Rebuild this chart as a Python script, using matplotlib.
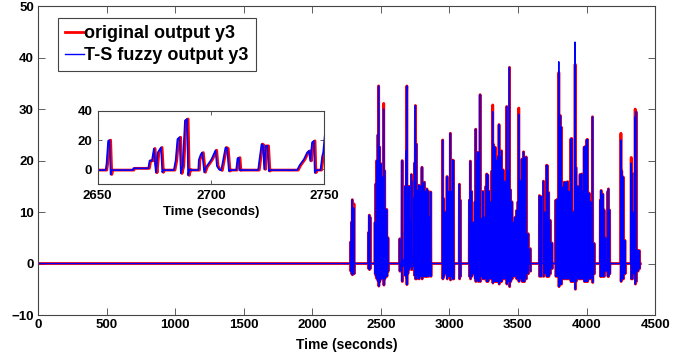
import matplotlib.pyplot as plt

plt.rcParams['font.family'] = ['Liberation Sans', 'DejaVu Sans']
plt.rcParams['font.weight'] = 'bold'
plt.rcParams['axes.labelweight'] = 'bold'

# spikes of the main trace: time (s), red peak, undershoot after the peak
spike_time = [
    2280, 2286, 2292, 2298, 2304,
    2410, 2416, 2422,
    2458, 2464, 2470, 2479, 2484, 2491, 2500, 2507, 2513, 2521, 2528, 2535,
    2543, 2552,
    2638,
    2760, 2768, 2778, 2788, 2800, 2808, 2818, 2828, 2836, 2848, 2857, 2864,
    2951, 2958, 2968, 2983, 2995, 3007, 3015, 3024, 3030, 3073, 3080,
    3146, 3153, 3162, 3175, 3187, 3192, 3202, 3210, 3224, 3234, 3244, 3256,
    3266, 3272, 3280, 3290, 3303, 3310, 3316, 3322, 3334, 3342, 3352, 3362,
    3370, 3380, 3392, 3404, 3418, 3426, 3438, 3446, 3456, 3468, 3480, 3490,
    3500, 3506, 3514, 3524, 3530, 3541, 3547, 3560, 3574, 3590,
    3657, 3669, 3686, 3696, 3709, 3715, 3724, 3735, 3748,
    3776, 3788, 3798, 3804, 3810, 3816, 3826, 3838, 3850, 3862, 3874, 3886,
    3892, 3904, 3917, 3923, 3935, 3944, 3953, 3965, 3976, 3983, 3990, 4001,
    4007, 4019, 4030, 4044, 4056,
    4101, 4107, 4119, 4128, 4140, 4155, 4160, 4168,
    4251, 4257, 4268, 4280,
    4326, 4334, 4346, 4355, 4362, 4374, 4386,
]
red_peak = [
    4.2, 8.0, 12.4, 6.0, 11.6,
    6.0, 9.4, 9.0,
    8, 15.5, 20, 25, 34.5, 22.6, 19.4, 14, 16.8, 31.1, 18, 10.5,
    10.5, 5,
    4.8,
    23.2, 14.2, 15.2, 15, 18.7, 15.6, 15.8, 14, 14.5, 14, 9, 13.9,
    24, 12.6, 10, 16.9, 14, 25.3, 14, 20.1, 20, 15.4, 12.3,
    12.3, 19.9, 14, 8, 12, 26.1, 20, 21.6, 32.8, 8.7, 14, 9,
    15, 17.4, 17.2, 14, 12, 18, 30.8, 23.1, 22.6, 20, 20.7, 27,
    20.7, 21.9, 18.2, 16, 30.5, 18, 38.1, 14.3, 12, 8, 9, 10.3,
    12, 30.2, 16.2, 12, 20.3, 21.7, 20.6, 20.7, 5.8, 2.9,
    13.2, 13, 16, 10, 19.1, 19, 13.8, 8.4, 4,
    12.3, 12.5, 37.1, 28, 28.7, 26.5, 14.8, 15.8, 15.8, 15.9, 14, 24.2,
    24.3, 10, 38.7, 18.7, 15, 14.8, 17.3, 17.4, 14, 22.6, 22.7, 24,
    24.1, 13.7, 12, 28.5, 3.9,
    12.3, 14.2, 13.5, 10.4, 5, 14, 14.5, 10.4,
    25.3, 18, 16.8, 4.5,
    20.6, 17.5, 10, 30, 29.5, 2.6, 2.5,
]
spike_dip = [
    -1.5, -2.0, -2.2, -1.8, -2.0,
    -1.0, -1.2, -1.0,
    -2, -2.5, -3, -3.5, -4.4, -3.5, -3, -2.5, -3, -4.2, -3, -2.5,
    -2.5, -1.5,
    -1.5,
    -3, -2.5, -3, -2.5, -3, -2.5, -2.5, -2.5, -2.5, -2.5, -2, -2.5,
    -3, -2.5, -2, -3, -2.5, -3.2, -2.5, -3, -3, -3, -2.5,
    -2.5, -3, -2.5, -2, -3, -3.5, -3, -3.5, -3.5, -2.5, -3, -3,
    -3, -3.5, -3.5, -3, -3, -3, -3.8, -3.5, -3.5, -3.5, -3.5, -4,
    -3.5, -3.5, -3, -3, -4, -3.5, -4.5, -3.5, -3, -2.5, -2.5, -3,
    -3, -3.5, -3, -3, -3.5, -3.5, -3.5, -3, -2, -1.5,
    -2.5, -2.5, -2.5, -2, -2.5, -2.5, -2.5, -2, -1,
    -2.5, -2.5, -4.5, -4, -4, -4, -3, -3, -3, -3, -3, -3.5,
    -3.5, -3.5, -5, -3.5, -3, -3, -3, -3, -3, -3.5, -3.5, -3.5,
    -3.5, -3, -3, -3.7, -2,
    -2.5, -2.5, -2.5, -2.5, -1.5, -2.5, -2.5, -2,
    -3.5, -3, -3, -2,
    -3, -3, -2, -4, -3.5, -1.5, -1,
]
# spikes where the fuzzy model peak differs from the original
blue_peak_change = {2304: 10.8, 2521: 30.0, 3316: 29.5, 3506: 29.0, 3798: 39.2,
                    3917: 43.0, 4251: 24.0, 4326: 19.5, 4355: 28.5}

# detailed trace in the zoomed window (2650-2755 s)
zoom_time = [
    2650.0, 2654.0, 2654.4, 2655.1, 2655.7, 2656.2, 2656.6, 2666.0, 2666.2,
    2672.8, 2673.4, 2674.4, 2675.3, 2675.8, 2676.2, 2677.0, 2678.4, 2679.0,
    2679.4, 2684.1, 2684.9, 2685.7, 2686.6, 2687.2, 2688.0, 2689.0, 2689.9,
    2690.4, 2691.0, 2691.5, 2694.9, 2695.1, 2696.0, 2696.6, 2697.5, 2698.4,
    2699.5, 2700.7, 2701.7, 2702.5, 2703.1, 2704.0, 2705.0, 2706.9, 2707.6,
    2708.4, 2708.8, 2711.6, 2712.2, 2712.8, 2713.2, 2713.6, 2721.3, 2721.9,
    2722.8, 2723.4, 2724.0, 2724.6, 2725.4, 2726.0, 2726.4, 2738.5, 2739.6,
    2741.5, 2742.9, 2743.7, 2744.3, 2745.1, 2745.9, 2746.3, 2747.0, 2748.8,
    2749.6, 2750.0, 2751.0, 2752.0, 2753.0, 2754.0,
]
zoom_value = [
    -0.5, -0.5, 4.0, 19.5, 20.0, -3.5, -0.5, -0.5, 0.7,
    0.7, 6.0, 5.8, 14.3, 3.5, -2.3, 11.5, 15.0, -2.0,
    -0.5, -0.5, 6.2, 20.7, 22.0, -2.8, 2.3, 33.4, 34.5,
    -4.1, 0.0, -0.5, -0.5, 6.4, 10.3, 11.5, -2.0, 1.8,
    4.1, 6.9, 10.3, 13.1, 2.3, 0.0, -0.7, 15.0, 14.3,
    -1.2, -0.5, -0.5, 7.6, 8.0, -0.7, -0.5, -0.5, 6.9,
    17.3, 16.6, 0.0, 16.1, 16.1, -1.2, -0.5, -0.5, 2.8,
    6.9, 11.5, 12.7, 5.8, 18.4, 19.5, -2.3, -0.5, -0.5,
    9.2, 11.5, 28.0, 30.7, -3.0, -0.5,
]
end_time = 4392
blue_lead = 0.5


def build_trace(use_blue, shift):
    pts = [(0.0, 0.0), (end_time, 0.0)]
    for t, p, d in zip(spike_time, red_peak, spike_dip):
        if use_blue:
            p = blue_peak_change.get(t, p)
        pts += [(t - 1.5, 0.0), (t - 0.5, p), (t + 0.5, p), (t + 1.5, d), (t + 2.5, 0.0)]
    pts += list(zip(zoom_time, zoom_value))
    pts.sort()
    return [a - shift for a, b in pts], [b for a, b in pts]


red_t, red_y = build_trace(False, 0.0)
blue_t, blue_y = build_trace(True, blue_lead)

axis_grey = '#444444'

fig = plt.figure(figsize=(6.98, 3.6), dpi=100)
ax = fig.add_axes([0.0545, 0.125, 0.884, 0.858])
ax.plot(red_t, red_y, color='#ff0000', lw=2.0, label='original output y3')
ax.plot(blue_t, blue_y, color='#0000ff', lw=1.0, label='T-S fuzzy output y3')
ax.set_xlim(0, 4500)
ax.set_ylim(-10, 50)
ax.set_xticks(range(0, 4501, 500))
ax.set_yticks(range(-10, 51, 10))
ax.tick_params(direction='in', top=True, right=True, labelsize=9.5, length=5,
               width=0.6, pad=3, color=axis_grey)
for s in ax.spines.values():
    s.set_linewidth(0.8)
    s.set_color(axis_grey)
ax.set_xlabel('Time (seconds)', fontsize=10, labelpad=5)
leg = ax.legend(loc='upper left', bbox_to_anchor=(0.0325, 0.961), borderaxespad=0,
                fontsize=13, handlelength=1.05, handletextpad=0.0, labelspacing=0.25,
                borderpad=0.4, fancybox=False, framealpha=1)
leg.get_frame().set_edgecolor(axis_grey)
leg.get_frame().set_linewidth(0.8)

# zoomed inset
ins = fig.add_axes([0.14, 0.489, 0.3246, 0.2028])
ins.plot(red_t, red_y, color='#ff0000', lw=2.0)
ins.plot(blue_t, blue_y, color='#0000ff', lw=1.2)
ins.set_xlim(2650, 2750)
ins.set_ylim(-10, 40)
ins.set_xticks([2650, 2700, 2750])
ins.set_yticks([0, 20, 40])
ins.tick_params(direction='in', top=True, right=True, labelsize=9.5, length=3,
                width=0.6, pad=4, color=axis_grey)
for s in ins.spines.values():
    s.set_linewidth(0.8)
    s.set_color(axis_grey)
ins.set_xlabel('Time (seconds)', fontsize=9.5, labelpad=3)

fig.savefig('out.png', dpi=100)
